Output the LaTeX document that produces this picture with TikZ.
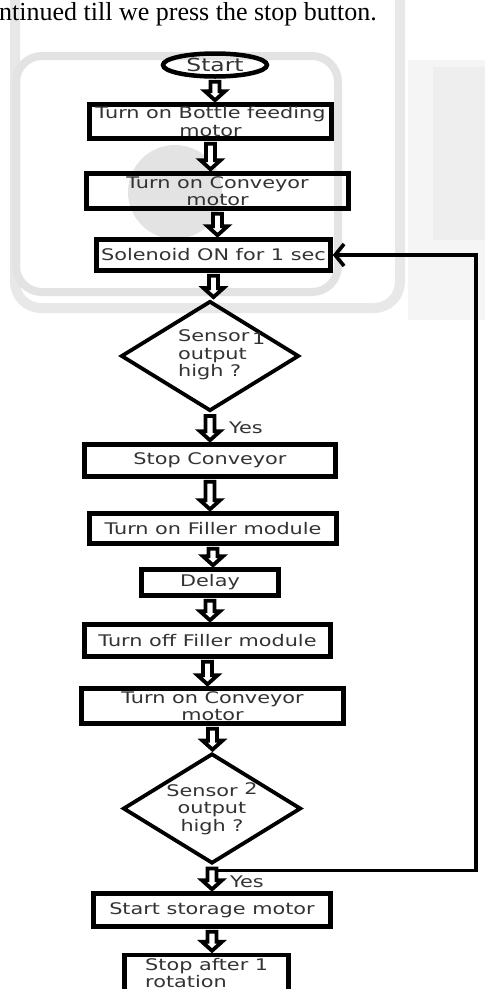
\documentclass[tikz,border=0pt]{standalone}
\usepackage{fontspec}
\setmainfont{Liberation Serif}
\newfontfamily\flowfont{DejaVu Sans}[FakeStretch=1.3]
\usetikzlibrary{shapes.geometric,arrows.meta,calc}

\begin{document}
\begin{tikzpicture}[x=1pt,y=-1pt,
  every node/.style={font=\flowfont\fontsize{16}{17.5}\selectfont, text=black!80},
  stepbox/.style 2 args={draw, line width=4.5pt, inner sep=0pt, align=center,
    minimum width=#1, minimum height=#2},
  terminal/.style={ellipse, draw, line width=4.5pt, inner sep=0pt,
    minimum width=104pt, minimum height=23pt},
  decision/.style={diamond, draw, line width=3.8pt, inner sep=0pt, aspect=1.6,
    minimum width=178pt, minimum height=110pt},
  blockarrow/.style={draw=black, fill=white, line width=3.8pt, line join=miter,
    to path={let \p1=(\tikztostart), \p2=(\tikztotarget) in
      (\x1-4.5pt,\y1-3pt) -- (\x1-4.5pt,\y2+11pt) -- (\x1-10pt,\y2+11pt) -- (\x1,\y2+2pt)
      -- (\x1+10pt,\y2+11pt) -- (\x1+4.5pt,\y2+11pt) -- (\x1+4.5pt,\y1-3pt) -- cycle}},
  loopline/.style={line width=3.6pt, -{Straight Barb[length=9pt,width=22pt]}},
  shade/.style={draw=gray!18, line width=10pt, rounded corners=26pt}
]
\useasboundingbox (0,0) rectangle (485,989);
\clip (0,0) rectangle (485,989);
\fill[white] (0,0) rectangle (485,989);

% faint frames behind the chart
\draw[shade] (15,-40) rectangle (400,308);
\draw[shade, draw=gray!22, line width=8pt] (16,56) rectangle (338,292);
\fill[gray!8] (408,60) rectangle (485,320);
\fill[gray!13] (433,67) rectangle (485,240);
\fill[gray!22] (175,192) circle (47);

\node[font=\rmfamily\fontsize{26}{26}\selectfont, text=black, anchor=base west, inner sep=0pt]
  (intro) at (-1,20) {ntinued till we press the stop button.};

\node[terminal, font=\flowfont\fontsize{18}{18}\selectfont] (start) at (215,65) {Start};
\node[stepbox={242pt}{34pt}] (b1) at (210.5,121.5) {Turn on Bottle feeding\\motor};
\node[stepbox={262pt}{35pt}] (b2) at (217.5,191) {Turn on Conveyor\\motor};
\node[stepbox={234pt}{31pt}] (b3) at (213.5,255) {Solenoid ON for 1 sec};
\node[decision] (d1) at (210,356) {};
\node[align=left, anchor=west, inner sep=0pt] (d1text) at (178,355)
  {Sensor\,\raisebox{-3pt}{1}\\output\\high ?};
\node[stepbox={251pt}{32pt}] (stop) at (210,460.5) {Stop Conveyor};
\node[stepbox={247pt}{30pt}] (f1) at (213,528.5) {Turn on Filler module};
\node[stepbox={137pt}{26pt}] (delay) at (210,582.5) {Delay};
\node[stepbox={246pt}{32pt}] (f2) at (207.5,640.5) {Turn off Filler module};
\node[stepbox={262pt}{35pt}] (b4) at (212.5,706) {Turn on Conveyor\\motor};
\node[decision, align=center] (d2) at (212,808.5) {Sensor \raisebox{2pt}{2}\\output\\high ?};
\node[stepbox={237pt}{33pt}] (storage) at (212,910) {Start storage motor};
\node[stepbox={164pt}{50pt}] (last) at (206.5,980) {};
\node[align=left, anchor=north west, inner sep=0pt, font=\flowfont\fontsize{16}{14.5}\selectfont]
  (lasttext) at (145,958.5) {Stop after 1\\rotation};

\node (yes1) at (246,428) {Yes};
\node (yes2) at (247,882) {Yes};

\foreach \a/\b in {start/b1, b1/b2, b2/b3, b3/d1, d1/stop, stop/f1, f1/delay,
                   delay/f2, f2/b4, b4/d2, d2/storage, storage/last}
  \draw[blockarrow] (\a.south) to (\a.south |- \b.north);

\coordinate (loopfoot) at ([xshift=6pt,yshift=-5pt]d2.south);
\coordinate (loopside) at (476,600);
\draw[loopline] (loopfoot) -| (loopside) |- (b3.east);
\end{tikzpicture}
\end{document}
